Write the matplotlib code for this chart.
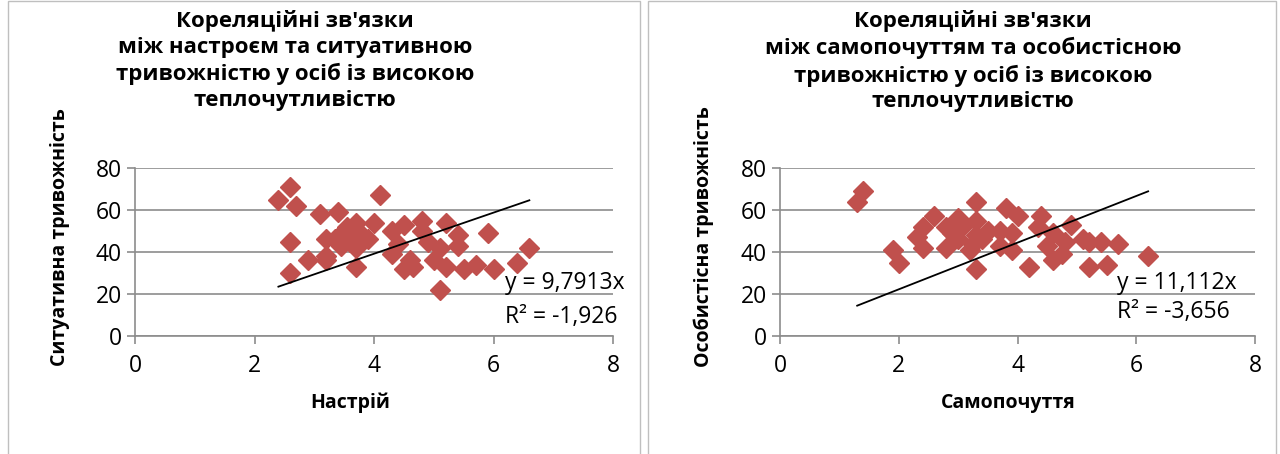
import matplotlib

matplotlib.use("Agg")

import matplotlib.pyplot as plt
from matplotlib.patches import Rectangle

plt.rcParams["font.family"] = ["Open Sans", "DejaVu Sans"]

# Left chart: mood vs situational anxiety
mood = [2.4, 2.6, 2.7, 2.6, 2.6, 2.9, 3.1, 3.4, 3.2, 3.2, 3.2, 3.35, 3.5, 3.6,
        3.7, 3.7, 3.7, 3.7, 3.9, 4.0, 4.1, 4.3, 4.3, 4.5, 4.4, 4.5, 4.65, 4.6,
        4.8, 4.8, 4.9, 5.0, 5.2, 5.1, 5.2, 5.1, 5.4, 5.4, 5.5, 5.7, 5.9, 6.0,
        6.4, 6.6, 3.45, 3.8, 3.55]
situational = [65, 71, 62, 45, 30, 36, 58, 59, 46, 38, 36, 46, 50, 45,
               54, 50, 42, 33, 46, 54, 67, 50, 39, 53, 44, 32, 33, 36,
               55, 50, 45, 36, 54, 42, 33, 22, 48, 43, 32, 34, 49, 32,
               35, 42, 43, 48, 52]
slope_left = 9.7913
r2_left = "-1,926"

# Right chart: well-being vs personal anxiety
wellbeing = [1.4, 1.3, 1.9, 2.0, 2.3, 2.4, 2.4, 2.6, 2.8, 2.8, 3.0, 3.0, 3.1,
             3.2, 3.3, 3.3, 3.3, 3.3, 3.4, 3.25, 3.7, 3.7, 3.8, 3.9, 3.9, 4.0,
             4.2, 4.4, 4.35, 4.5, 4.6, 4.6, 4.75, 4.8, 4.9, 5.1, 5.2, 5.2, 5.4,
             5.5, 5.7, 6.2, 2.9, 3.5]
personal = [69, 64, 41, 35, 47, 52, 42, 57, 52, 42, 56, 46, 53,
            41, 64, 32, 55, 48, 46, 44, 50, 43, 61, 49, 41, 57,
            33, 57, 52, 43, 36, 49, 39, 45, 53, 46, 33, 45, 45,
            34, 44, 38, 49, 50]
slope_right = 11.112
r2_right = "-3,656"

W, H = 1280, 454
fig = plt.figure(figsize=(12.8, 4.54), dpi=100)
fig.patch.set_facecolor("white")

# chart-area borders
for x0, x1 in [(8, 640), (648, 1276)]:
    fig.patches.append(Rectangle((x0 / W, -0.05), (x1 - x0) / W, 1.05 - 1 / H,
                                 transform=fig.transFigure, fill=False,
                                 edgecolor="#BFBFBF", linewidth=1.0))


def draw_panel(rect, xs, ys, slope, r2, title, xlabel, ylabel,
               title_x, ylabel_x, xlabel_x, eq_x, eq_y, r2_y):
    ax = fig.add_axes(rect)
    ax.plot(xs, ys, linestyle="none", marker="D", markersize=10,
            color="#C0504D", markeredgecolor="#C0504D", zorder=3)
    x0, x1 = min(xs), max(xs)
    ax.plot([x0, x1], [slope * x0, slope * x1], color="black", linewidth=1.3, zorder=4)
    ax.set_xlim(0, 8)
    ax.set_ylim(0, 80)
    ax.set_xticks([0, 2, 4, 6, 8])
    ax.set_yticks([0, 20, 40, 60, 80])
    ax.grid(axis="y", color="#8C8C8C", linewidth=1.2)
    ax.set_axisbelow(True)
    for side in ["top", "right"]:
        ax.spines[side].set_visible(False)
    for side in ["left", "bottom"]:
        ax.spines[side].set_color("#8C8C8C")
        ax.spines[side].set_linewidth(1.2)
    ax.tick_params(colors="#8C8C8C", labelcolor="black", labelsize=16.5,
                   length=6, width=1.2)
    ax.tick_params(axis="x", pad=7)
    ax.text(eq_x, eq_y, f"y = {str(slope).replace('.', ',')}x",
            transform=ax.transAxes, fontsize=16.5, va="center", ha="left")
    ax.text(eq_x, r2_y, f"R² = {r2}", transform=ax.transAxes,
            fontsize=16.5, va="center", ha="left")
    fig.text(title_x / W, 1 - 10 / H, title, ha="center", va="top",
             fontsize=16, fontweight="bold", linespacing=1.3)
    fig.text(ylabel_x / W, 1 - 237 / H, ylabel, rotation=90, ha="center",
             va="center", fontsize=14, fontweight="bold")
    fig.text(xlabel_x / W, 1 - 403 / H, xlabel, ha="center", va="center",
             fontsize=14, fontweight="bold")
    return ax


ax_h = (336 - 168) / H
draw_panel([135 / W, 1 - 336 / H, 478 / W, ax_h], mood, situational,
           slope_left, r2_left,
           "Кореляційні зв'язки\nміж настроєм та ситуативною\n"
           "тривожністю у осіб із високою\nтеплочутливістю",
           "Настрій", "Ситуативна тривожність",
           295, 60, 350, 0.774, 0.315, 0.113)
draw_panel([780 / W, 1 - 336 / H, 475 / W, ax_h], wellbeing, personal,
           slope_right, r2_right,
           "Кореляційні зв'язки\nміж самопочуттям та особистісною\n"
           "тривожністю у осіб із високою\nтеплочутливістю",
           "Самопочуття", "Особистісна тривожність",
           973, 704, 1008, 0.709, 0.315, 0.14)

fig.savefig("out.png", dpi=100)
